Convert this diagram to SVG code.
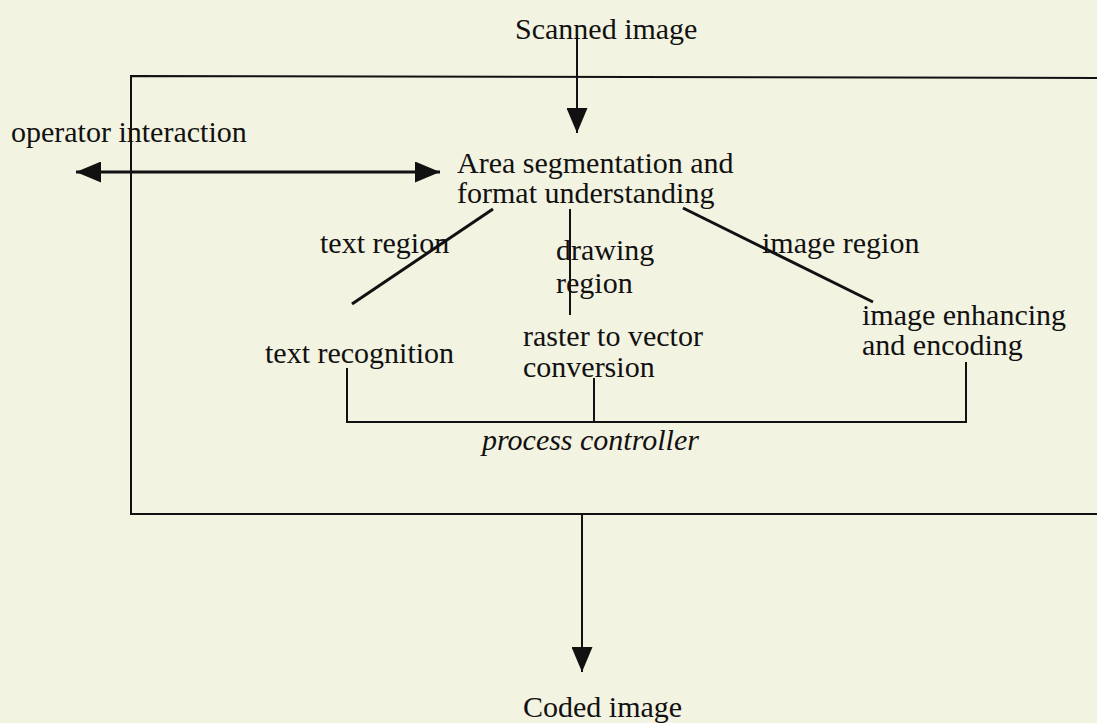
<svg xmlns="http://www.w3.org/2000/svg" width="1097" height="723" viewBox="0 0 1097 723">
<defs>
<style>
text{font-family:"Liberation Serif","Times New Roman",serif;font-size:30px;fill:#111}
.ln{stroke:#111;stroke-width:2;fill:none}
.thk{stroke:#111;stroke-width:3;fill:none}
</style>
<marker id="ah" viewBox="0 0 25 21" refX="25" refY="10.5" markerWidth="25" markerHeight="21" markerUnits="userSpaceOnUse" orient="auto-start-reverse"><path d="M0,0 L25,10.5 L0,21 z" fill="#111"/></marker>
</defs>
<rect width="1097" height="723" fill="#f3f3e2"/>
<g id="frame"><path class="ln" d="M1097,78 L131,76 L131,514 L1097,514"/></g>
<g id="scanned"><text x="515" y="39">Scanned image</text></g>
<g id="operator"><text x="11" y="142">operator interaction</text></g>
<g id="area"><text x="457" y="173">Area segmentation and</text><text x="457" y="203">format understanding</text></g>
<g id="textregion"><text x="320" y="253">text region</text></g>
<g id="drawingregion"><text x="556" y="260">drawing</text><text x="556" y="293">region</text></g>
<g id="imageregion"><text x="762" y="253">image region</text></g>
<g id="textrec"><text x="265" y="363">text recognition</text></g>
<g id="raster"><text x="523" y="346">raster to vector</text><text x="523" y="377">conversion</text></g>
<g id="imageenh"><text x="862" y="325">image enhancing</text><text x="862" y="355">and encoding</text></g>
<g id="controller"><text x="482" y="450" font-style="italic">process controller</text></g>
<g id="coded"><text x="523" y="717">Coded image</text></g>
<g id="connectors">
<line class="ln" x1="577" y1="35" x2="577" y2="133" marker-end="url(#ah)"/>
<line class="thk" x1="76" y1="172" x2="440" y2="172" marker-start="url(#ah)" marker-end="url(#ah)"/>
<line class="thk" x1="493" y1="209" x2="352" y2="304"/>
<line class="ln" x1="570" y1="209" x2="570" y2="315"/>
<line class="thk" x1="683" y1="208" x2="873" y2="302"/>
<path class="ln" d="M347,368 L347,422 L966,422 L966,362"/>
<line class="ln" x1="594" y1="378" x2="594" y2="422"/>
<line class="ln" x1="582" y1="514" x2="582" y2="672" marker-end="url(#ah)"/>
</g>
</svg>
